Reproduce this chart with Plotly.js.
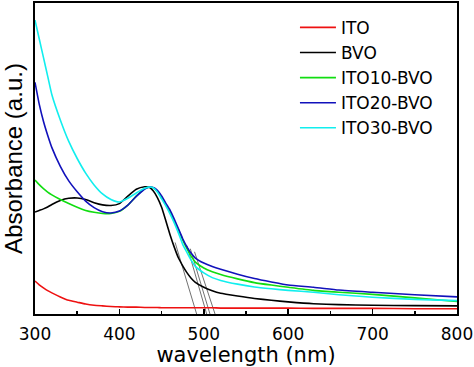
<!DOCTYPE html>
<html>
<head>
<meta charset="utf-8">
<script src="https://cdn.plot.ly/plotly-3.0.1.min.js"></script>
<style>html,body{margin:0;padding:0;background:#fff;}#chart{width:474px;height:367px;}</style>
</head>
<body>
<div id="chart"></div>
<script>
// wavelength grid (nm)
var wavelength = [300,305,310,315,320,330,340,350,360,370,380,390,400,410,420,430,435,440,445,450,455,460,465,470,475,480,485,490,500,510,520,540,560,580,600,630,660,700,750,800];

var absITO = [10.6,9.4,8.4,7.5,6.8,5.5,4.4,3.8,3.2,2.8,2.6,2.4,2.3,2.2,2.2,2.1,2.1,2.1,2.1,2.0,2.0,2.0,2.0,2.0,2.0,2.0,2.0,2.0,2.0,2.0,1.9,1.9,1.9,1.9,1.9,1.8,1.8,1.8,1.7,1.7];
var absBVO = [32.8,33.3,33.8,34.4,35.2,36.5,37.2,37.3,36.8,35.8,35.1,34.9,35.5,37.9,40.1,40.9,40.8,39.6,37.4,34.3,30.0,25.5,21.5,18.0,15.5,13.3,11.5,10.2,8.6,7.5,6.7,5.8,5.0,4.4,3.9,3.3,3.0,2.8,2.7,2.6];
var absITO10 = [43.1,41.6,40.3,39.2,38.3,36.8,35.5,34.3,33.3,32.7,32.3,32.3,33.0,35.0,37.9,40.3,40.8,40.6,39.5,37.6,35.2,32.8,29.8,27.0,23.8,21.0,18.6,16.7,14.8,13.6,12.7,11.3,10.1,9.3,8.6,7.6,7.0,6.3,5.2,4.0];
var absITO20 = [74.5,67.5,62.0,57.5,53.5,47.5,42.8,39.3,36.3,34.2,32.9,32.5,33.1,35.0,37.8,40.2,40.8,40.7,39.8,38.0,35.6,33.4,30.5,27.4,24.2,21.6,19.5,18.0,16.4,15.3,14.4,12.8,11.4,10.3,9.3,8.6,7.7,7.0,6.2,5.5];
var absITO30 = [94.5,88.5,82.5,76.5,70.5,62.4,55.5,50.0,45.3,41.5,38.6,36.8,36.0,37.2,38.9,40.4,40.8,40.6,39.2,37.0,34.8,32.2,29.3,26.0,22.4,19.8,17.3,15.3,13.2,11.7,10.8,9.6,8.7,8.1,7.6,7.0,6.2,5.4,4.7,4.3];

var seriesNames = ["ITO","BVO","ITO10-BVO","ITO20-BVO","ITO30-BVO"];
var seriesColors = ["#ee1111","#000000","#11dd11","#1111bb","#11eeee"];
var seriesData = [absITO, absBVO, absITO10, absITO20, absITO30];

// band-edge tangent lines: start point and intercept with the baseline
var tangentStartX = [466, 480, 484, 489];
var tangentStartY = [23, 22, 21, 20];
var tangentEndX = [491.5, 503.4, 507.3, 513.3];
var tangentEndY = [0, 0, 0, 0];

var tickVals = [300,400,500,600,700,800];

var traces = [];
for (var i = 0; i < tangentStartX.length; i++) {
  traces.push({
    x: [tangentStartX[i], tangentEndX[i]],
    y: [tangentStartY[i], tangentEndY[i]],
    mode: "lines", showlegend: false, hoverinfo: "skip",
    line: {color: "#333333", width: 0.7}
  });
}
for (var j = 0; j < seriesNames.length; j++) {
  traces.push({
    x: wavelength, y: seriesData[j], name: seriesNames[j],
    mode: "lines",
    line: {color: seriesColors[j], width: 1.6, shape: "spline", smoothing: 0.5}
  });
}

var layout = {
  width: 474, height: 367,
  margin: {l: 35, r: 17, t: 3, b: 53},
  paper_bgcolor: "#ffffff", plot_bgcolor: "#ffffff",
  showlegend: true,
  legend: {
    x: 0.616, y: 0.978, xanchor: "left", yanchor: "top",
    bgcolor: "rgba(0,0,0,0)", borderwidth: 0, itemwidth: 36,
    font: {family: "DejaVu Sans", size: 17, color: "#000"},
    tracegroupgap: 0
  },
  xaxis: {
    range: [300, 800],
    tickvals: tickVals, ticktext: tickVals.map(String),
    ticks: "inside", ticklen: 5, tickwidth: 1.5, tickcolor: "#000",
    ticklabelstandoff: 4,
    minor: {dtick: 50, tick0: 300, ticks: "inside", ticklen: 3, tickwidth: 1.5, tickcolor: "#000"},
    showline: true, linewidth: 2, linecolor: "#000", mirror: true,
    showgrid: false, zeroline: false,
    tickfont: {family: "DejaVu Sans", size: 17, color: "#000"},
    title: {text: "wavelength (nm)", font: {family: "DejaVu Sans", size: 21, color: "#000"}, standoff: 0},
    automargin: false
  },
  yaxis: {
    range: [0, 100],
    showticklabels: false, ticks: "",
    showline: true, linewidth: 2, linecolor: "#000", mirror: true,
    showgrid: false, zeroline: false,
    title: {text: "Absorbance (a.u.)", font: {family: "Liberation Sans", size: 24, color: "#000"}, standoff: 4},
    automargin: false
  }
};

Plotly.newPlot("chart", traces, layout, {displayModeBar: false, staticPlot: true});
</script>
</body>
</html>
